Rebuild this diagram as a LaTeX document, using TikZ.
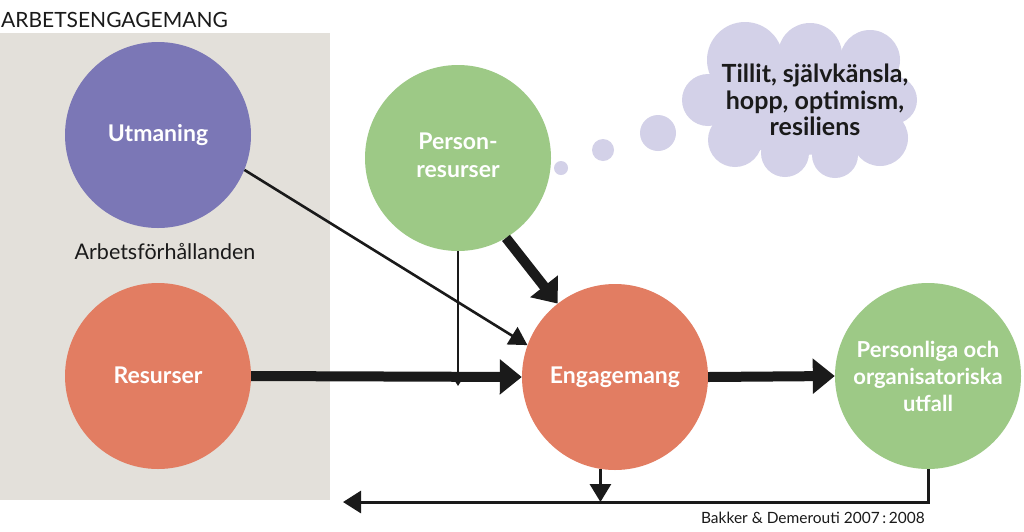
\documentclass[tikz,border=0pt]{standalone}
\usepackage{fontspec}
\setmainfont{Lato}
\usetikzlibrary{arrows.meta}
\definecolor{gbg}{HTML}{E3E0DA}
\definecolor{cpurple}{HTML}{7B77B6}
\definecolor{corange}{HTML}{E27D62}
\definecolor{cgreen}{HTML}{9DC986}
\definecolor{ccloud}{HTML}{D3D1E8}
\definecolor{ink}{HTML}{1A1A1A}
\begin{document}
\begin{tikzpicture}[x=1pt,y=-1pt,
  circ/.style={circle, minimum size=186pt, inner sep=0pt, text=white,
    font=\bfseries\fontsize{23}{28}\selectfont, align=center},
  thickarrow/.style={draw=ink, line width=10pt, -{Triangle[length=22pt,width=34pt]}},
  thinarrow/.style={draw=ink, line width=2.6pt, -{Triangle[length=18pt,width=20pt]}},
  droparrow/.style={draw=ink, line width=2.2pt, -{Triangle[length=10pt,width=12pt]}},
  fbline/.style={draw=ink, line width=3pt, -{Triangle[length=18pt,width=22pt]}},
  fbarrow/.style={draw=ink, line width=3pt, -{Triangle[length=18pt,width=21pt]}},
  bubble/.style={fill=ccloud},
  label/.style={text=ink, inner sep=0pt}]
\useasboundingbox (0,0) rectangle (1024,531);
\fill[white] (0,0) rectangle (1024,531);
% gray panel
\fill[gbg] (0,33) rectangle (330,500);
\node[label, anchor=west, font=\fontsize{21}{25}\selectfont] (title) at (1,20) {ARBETSENGAGEMANG};
% circles
\node[circ, fill=cpurple] (utm) at (158,135) {\raisebox{3pt}{Utmaning}};
\node[circ, fill=corange] (res) at (158,376) {\raisebox{2pt}{Resurser}};
\node[circ, fill=cgreen] (pers) at (458,158) {\raisebox{9pt}{\begin{tabular}{@{}c@{}}Person-\\resurser\end{tabular}}};
\node[circ, fill=corange] (eng) at (615,377) {Engagemang};
\node[circ, fill=cgreen, font=\bfseries\fontsize{22}{27}\selectfont] (utf) at (928,376) {Personliga och\\organisatoriska\\utfall};
\node[label, font=\fontsize{21.5}{25}\selectfont] (arb) at (165,252) {Arbetsförhållanden};
% thought cloud
\fill[bubble] (561,168) circle (7pt);
\fill[bubble] (603,150) circle (11pt);
\fill[bubble] (658,133) circle (18pt);
\begin{scope}[bubble]
  \fill (800,100) ellipse (95pt and 55pt);
  \fill (745,60) circle (38pt);
  \fill (810,55) circle (32pt);
  \fill (870,60) circle (30pt);
  \fill (893,100) circle (24pt);
  \fill (880,138) circle (28pt);
  \fill (835,155) circle (23pt);
  \fill (785,153) circle (24pt);
  \fill (735,140) circle (27pt);
  \fill (708,100) circle (26pt);
\end{scope}
\node[label, align=center, font=\bfseries\fontsize{25}{26.5}\selectfont] (cloudtxt) at (815,100)
  {Tillit, självkänsla,\\hopp, optimism,\\resiliens};
% connectors
\coordinate (pdrop) at (458,386);
\coordinate (fbend) at (343,502);
\draw[thinarrow] (utm.-22) -- (eng.160);
\draw[droparrow] (pers.south) -- (pdrop);
\draw[thickarrow] (res.east) -- (eng.west);
\draw[thickarrow] (pers.-59) -- (eng.128);
\draw[thickarrow] (eng.east) -- (utf.west);
\draw[fbline] (utf.south) |- (fbend);
\draw[fbarrow] (eng.-99) -- (eng.-99 |- fbend);
\node[label, anchor=east, font=\fontsize{15.5}{18}\selectfont] (cite) at (925,518) {Bakker \& Demerouti 2007\,:\,2008};
\end{tikzpicture}
\end{document}
